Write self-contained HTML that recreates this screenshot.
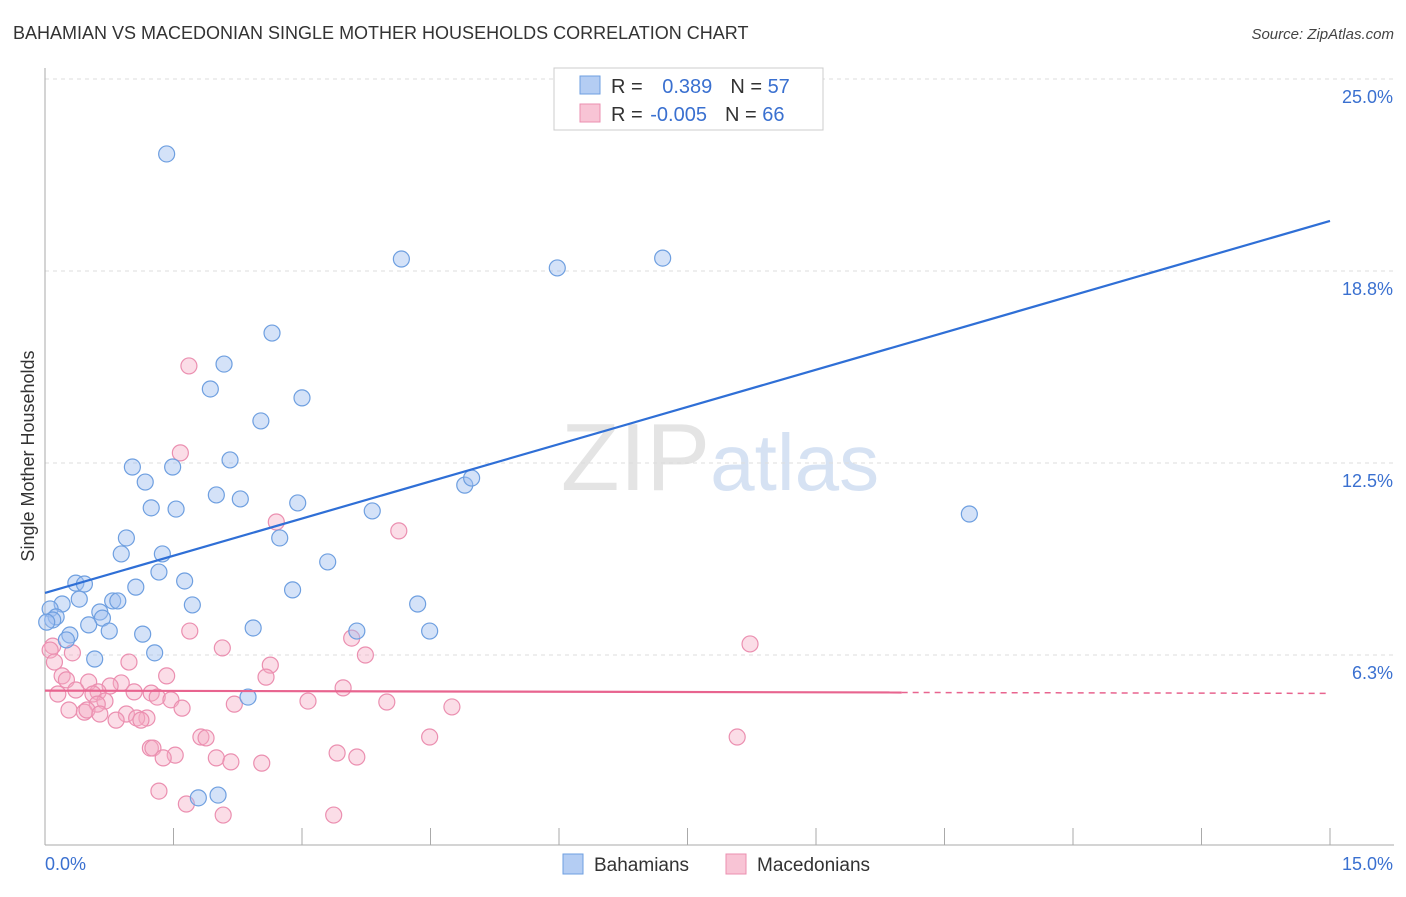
<!DOCTYPE html>
<html><head><meta charset="utf-8"><style>
body{margin:0;background:#fff;font-family:"Liberation Sans",sans-serif;}
svg text{font-family:"Liberation Sans",sans-serif;}
</style></head><body>
<svg id="chart" width="1406" height="892" viewBox="0 0 1406 892" xmlns="http://www.w3.org/2000/svg">
<text x="13" y="39" font-size="18" fill="#333">BAHAMIAN VS MACEDONIAN SINGLE MOTHER HOUSEHOLDS CORRELATION CHART</text>
<text x="1394" y="39" font-size="15" fill="#444" text-anchor="end" font-style="italic">Source: ZipAtlas.com</text>
<text x="720" y="490" font-size="96" text-anchor="middle" fill="#e4e4e4" font-family="Liberation Serif">ZIP<tspan fill="#d6e2f3" font-family="Liberation Sans" font-size="80">atlas</tspan></text>
<g id="grid"></g>
<g id="axes"></g>
<g id="marks"></g>
<text transform="translate(34,456) rotate(-90)" font-size="18" fill="#333" text-anchor="middle">Single Mother Households</text>
<g>
<rect x="554" y="68" width="269" height="62" fill="#fff" stroke="#ccc"/>
<rect x="580" y="76" width="20" height="18" fill="#b4cdf3" stroke="#6e9fe0"/>
<rect x="580" y="104" width="20" height="18" fill="#f8c4d5" stroke="#eb8fb0"/>
<text x="611" y="93" font-size="20" fill="#333">R = <tspan fill="#3a70d0" dx="14">0.389</tspan><tspan dx="18" fill="#333">N = </tspan><tspan fill="#3a70d0">57</tspan></text>
<text x="611" y="121" font-size="20" fill="#333">R = <tspan fill="#3a70d0" dx="2">-0.005</tspan><tspan dx="18" fill="#333">N = </tspan><tspan fill="#3a70d0">66</tspan></text>
</g>
<g>
<rect x="563" y="854" width="20" height="20" fill="#b4cdf3" stroke="#6e9fe0"/>
<text x="594" y="871" font-size="19" fill="#333">Bahamians</text>
<rect x="726" y="854" width="20" height="20" fill="#f8c4d5" stroke="#eb8fb0"/>
<text x="757" y="871" font-size="19" fill="#333">Macedonians</text>
</g>
</svg>
<script>
const blueX=[1.42,4.16,5.98,7.21,2.65,2.09,1.93,3.00,2.52,1.02,1.49,2.16,1.17,4.90,4.98,2.00,2.28,2.95,1.24,1.53,3.82,10.79,2.74,0.95,0.89,1.37,3.30,1.33,1.63,0.36,0.46,1.06,2.89,0.40,0.20,0.79,0.85,1.72,4.35,0.06,0.64,0.13,0.67,0.09,0.02,0.51,2.43,0.75,1.14,3.64,4.49,0.29,0.25,1.28,0.58,2.37,1.79,2.02];
const blueY=[22.56,19.14,18.85,19.17,16.73,15.72,14.91,14.62,13.87,12.37,12.37,12.60,11.88,11.78,12.01,11.46,11.33,11.20,11.04,11.00,10.94,10.84,10.06,10.06,9.54,9.54,9.28,8.95,8.66,8.59,8.56,8.46,8.37,8.07,7.91,8.01,8.01,7.88,7.91,7.75,7.65,7.49,7.45,7.39,7.32,7.23,7.13,7.03,6.93,7.03,7.03,6.90,6.74,6.32,6.12,4.88,1.60,1.69];
const pinkX=[1.68,1.58,2.70,4.13,1.69,3.58,2.07,8.23,0.09,0.06,3.74,0.32,0.11,0.98,2.63,1.42,0.20,0.25,2.58,0.51,0.89,0.76,3.48,0.36,0.62,1.04,1.24,0.56,1.31,0.15,1.47,3.07,3.99,0.70,0.61,2.21,4.75,0.28,1.60,0.46,0.49,0.64,0.95,1.19,1.07,1.12,0.83,4.49,8.08,1.82,1.88,1.23,1.26,3.41,1.52,1.38,3.64,2.00,2.17,2.53,1.33,1.65,2.08,3.37];
const pinkY=[15.66,12.83,10.58,10.29,7.03,6.80,6.48,6.61,6.54,6.41,6.25,6.32,6.02,6.02,5.92,5.57,5.57,5.44,5.53,5.37,5.34,5.24,5.18,5.11,5.05,5.05,5.01,4.98,4.88,4.98,4.79,4.75,4.72,4.75,4.65,4.65,4.56,4.46,4.52,4.39,4.46,4.33,4.33,4.20,4.20,4.13,4.13,3.58,3.58,3.58,3.55,3.22,3.22,3.06,2.99,2.90,2.93,2.90,2.77,2.73,1.82,1.40,1.04,1.04];
const blueTrend=[8.27,20.38];
const pinkTrend=[5.09,5.0];
const pinkSolidEnd=10.0;
const yTicks=[6.25,12.5,18.75,25];
const yTickLabels=["6.3%","12.5%","18.8%","25.0%"];
const xTicks=[0,1.5,3,4.5,6,7.5,9,10.5,12,13.5,15];

const X=v=>45+v*(1285/15);
const Y=v=>847-v*30.72;
const NS="http://www.w3.org/2000/svg";
function mk(tag,attrs,parent){const e=document.createElementNS(NS,tag);for(const k in attrs)e.setAttribute(k,attrs[k]);parent.appendChild(e);return e;}
const grid=document.getElementById('grid'),axes=document.getElementById('axes'),marks=document.getElementById('marks');
yTicks.forEach((t,i)=>{
  const l=mk('line',{x1:45,x2:1394,y1:Y(t),y2:Y(t),stroke:'#ddd','stroke-dasharray':'4 4'},grid);
  
  
  const tx=mk('text',{x:1393,y:Y(t)+24,'font-size':18,fill:'#3a70d0','text-anchor':'end'},axes);
  tx.textContent=yTickLabels[i];
  
  
});
const ax=mk('line',{x1:45,x2:1394,y1:845,y2:845,stroke:'#aaa'},axes);


const ay=mk('line',{x1:45,x2:45,y1:68,y2:845,stroke:'#aaa'},axes);


xTicks.forEach(t=>{
  const l=mk('line',{x1:X(t),x2:X(t),y1:828,y2:845,stroke:'#aaa'},axes);
  
  
});
const xl0=mk('text',{x:45,y:870,'font-size':18,fill:'#3a70d0'},axes);xl0.textContent='0.0%';


const xl1=mk('text',{x:1393,y:870,'font-size':18,fill:'#3a70d0','text-anchor':'end'},axes);xl1.textContent='15.0%';


pinkX.forEach((x,i)=>{
  const c=mk('circle',{cx:X(x),cy:Y(pinkY[i]),r:8,fill:'rgba(245,170,195,0.4)',stroke:'#eb8fb0','stroke-width':1.2},marks);
  
  
});
blueX.forEach((x,i)=>{
  const c=mk('circle',{cx:X(x),cy:Y(blueY[i]),r:8,fill:'rgba(160,190,240,0.45)',stroke:'#6e9fe0','stroke-width':1.2},marks);
  
  
});
const bt=mk('line',{x1:X(0),y1:Y(blueTrend[0]),x2:X(15),y2:Y(blueTrend[1]),stroke:'#2f6fd6','stroke-width':2.2},marks);


const pAt=v=>pinkTrend[0]+(pinkTrend[1]-pinkTrend[0])*v/15;
const pt=mk('line',{x1:X(0),y1:Y(pinkTrend[0]),x2:X(pinkSolidEnd),y2:Y(pAt(pinkSolidEnd)),stroke:'#e8648f','stroke-width':2.2},marks);


const pd=mk('line',{x1:X(pinkSolidEnd),y1:Y(pAt(pinkSolidEnd)),x2:X(15),y2:Y(pinkTrend[1]),stroke:'#e8648f','stroke-width':1.5,'stroke-dasharray':'6 5'},marks);


</script>
</body></html>
